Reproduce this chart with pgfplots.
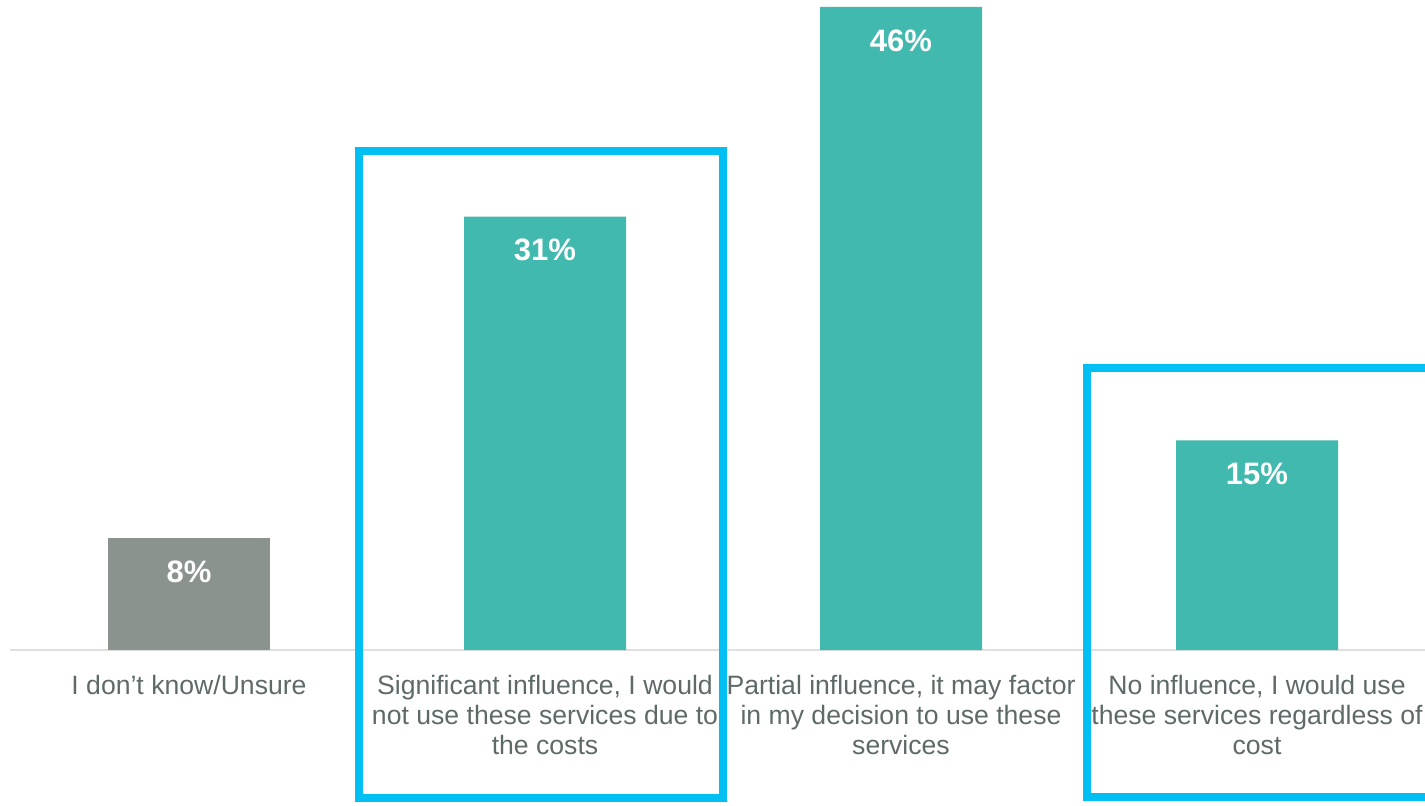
\documentclass[border=0pt]{standalone}
\usepackage{pgfplots}
\pgfplotsset{compat=1.18}
\usepackage{fontspec}
\setmainfont{Liberation Sans}
\usetikzlibrary{calc}

\definecolor{barteal}{HTML}{41B9AE}
\definecolor{bargray}{HTML}{8B938E}
\definecolor{boxblue}{HTML}{00BFF3}
\definecolor{labelgray}{HTML}{5E6A68}
\definecolor{axisgray}{HTML}{E0E0E0}

% 1 px of the reference = 0.5pt
\begin{document}
\begin{tikzpicture}
\begin{axis}[
    scale only axis,
    width=707.5pt,
    height=325pt,
    xmin=-0.5028, xmax=3.4719,
    ymin=0, ymax=46.5,
    ybar,
    bar width=81pt,
    clip=false,
    axis x line*=bottom,
    axis y line=none,
    axis line style={axisgray, line width=0.75pt, -},
    xtick={0,1,2,3},
    major tick length=0pt,
    xticklabels={
        {I don’t know/Unsure},
        {Significant influence, I would\\not use these services due to\\the costs},
        {Partial influence, it may factor\\in my decision to use these\\services},
        {No influence, I would use\\these services regardless of\\cost}},
    xticklabel style={align=center, anchor=north, inner sep=0pt,
        font=\fontsize{13.3}{15}\selectfont, text=labelgray},
    xticklabel shift=12.5pt,
    /pgf/number format/assume math mode=true,
    nodes near coords={\pgfmathprintnumber{\pgfplotspointmeta}\%},
    every node near coord/.append style={anchor=north, inner sep=0pt,
        yshift=-11pt, text=white, font=\fontsize{15.5}{18}\selectfont\bfseries},
]
\addplot[fill=bargray, draw=none, bar shift=0pt] coordinates {(0,8)};
\addplot[fill=barteal, draw=none, bar shift=0pt] coordinates {(1,31) (2,46) (3,15)};

\draw[boxblue, line width=3.75pt] (axis cs:0.4775,35.7) rectangle (axis cs:1.5,-10.59);
\draw[boxblue, line width=3.75pt] (axis cs:2.5225,20.17) rectangle (axis cs:3.6,-10.52);

\coordinate (o) at (rel axis cs:0,0);
\end{axis}
\pgfresetboundingbox
\useasboundingbox ($(o)+(-5pt,-77.5pt)$) rectangle ($(o)+(707.5pt,325pt)$);
\end{tikzpicture}
\end{document}
